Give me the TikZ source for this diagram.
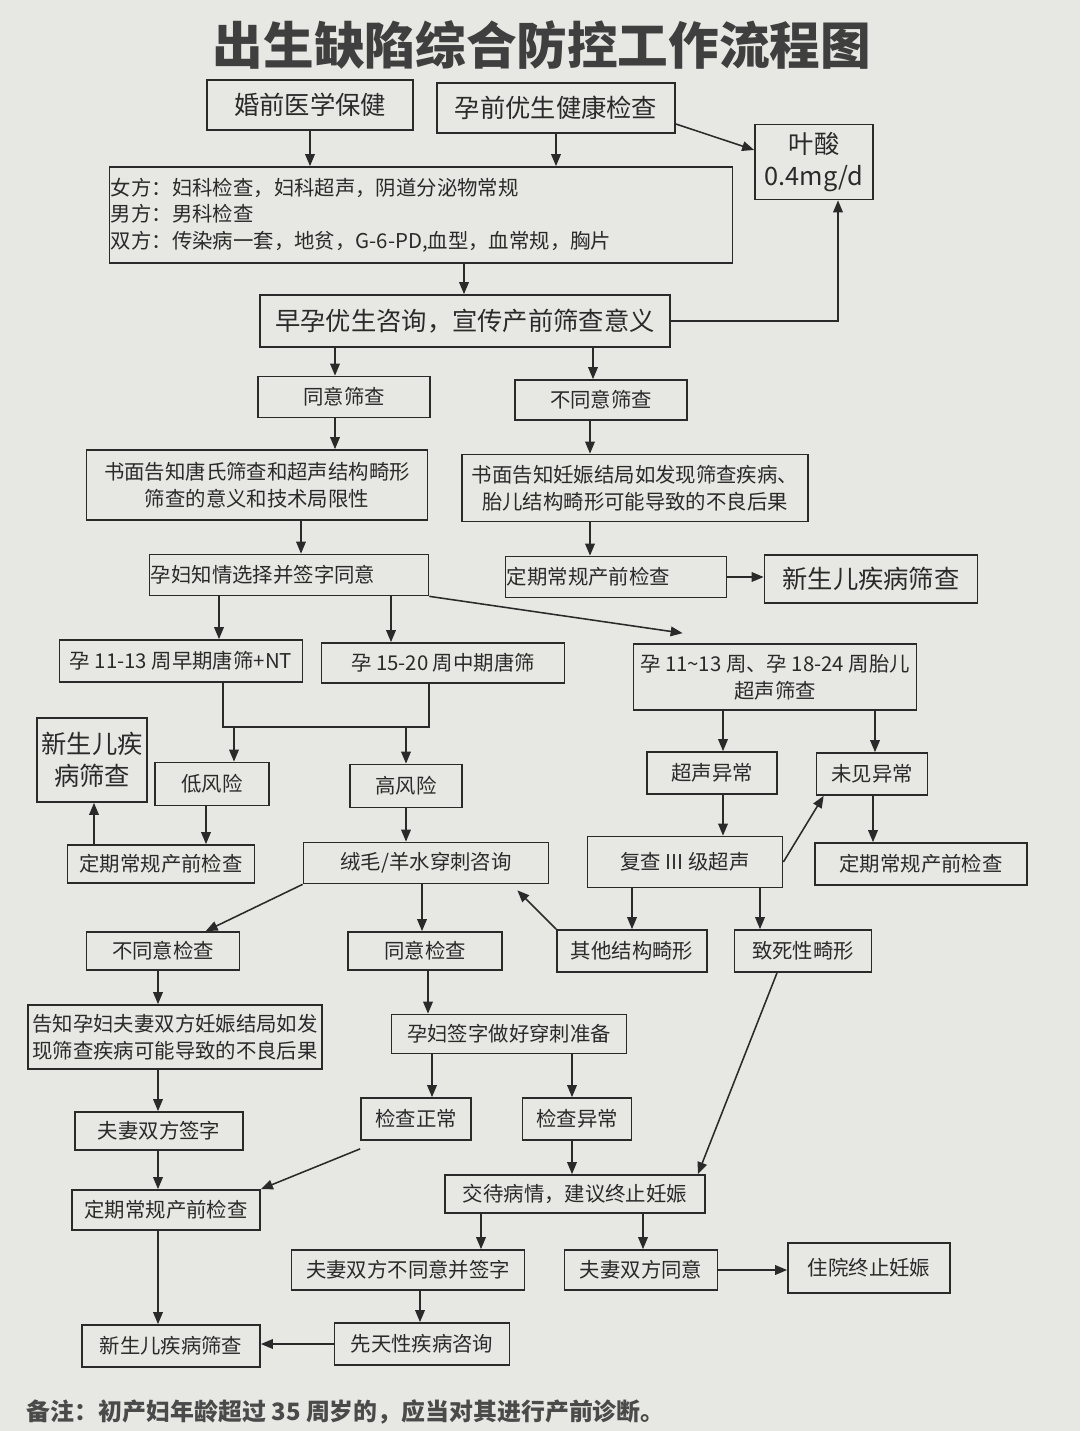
\documentclass[tikz,border=0pt]{standalone}
\usepackage{fontspec}
\setmainfont{Noto Sans CJK SC}
\usepackage{tikz}
\usetikzlibrary{arrows.meta}

\definecolor{paper}{RGB}{231,231,227}
\definecolor{ink}{RGB}{42,42,42}

\begin{document}
\begin{tikzpicture}[x=0.025cm, y=-0.025cm, color=ink,
	box/.style={draw, line width=1.2pt, inner sep=1pt, align=center, font=\fontsize{14.5}{19}\selectfont},
	bigbox/.style={box, font=\fontsize{18}{23}\selectfont},
	arr/.style={-{Triangle[length=0.3cm, width=0.24cm]}, line width=1.1pt}]

	% Paper
	\fill[paper] (0,0) rectangle (1080,1431);
	\useasboundingbox (0,0) rectangle (1080,1431);

	% Title
	\node[font=\fontsize{36}{40}\selectfont\bfseries, text=ink!90] (title) at (542,45) {出生缺陷综合防控工作流程图};

	% Pre-pregnancy
	\node[bigbox, minimum width=5.15cm, minimum height=1.25cm] (hq) at (310,105) {婚前医学保健};
	\node[bigbox, minimum width=5.95cm, minimum height=1.25cm] (yq) at (556,108) {孕前优生健康检查};
	\node[bigbox, minimum width=2.95cm, minimum height=1.875cm] (ys) at (814,162) {叶酸\\0.4mg/d};
	\node[box, text width=15.5cm, align=left, minimum height=2.4cm] (jc) at (421,215)
		{女方：妇科检查，妇科超声，阴道分泌物常规\\男方：男科检查\\双方：传染病一套，地贫，G-6-PD,血型，血常规，胸片};
	\node[bigbox, minimum width=10.25cm, minimum height=1.3cm] (zy) at (465,321) {早孕优生咨询，宣传产前筛查意义};

	% Screening choice
	\node[box, minimum width=4.3cm, minimum height=1.025cm] (ty) at (344,397) {同意筛查};
	\node[box, minimum width=4.3cm, minimum height=1cm] (bty) at (601,400) {不同意筛查};
	\node[box, minimum width=8.525cm, minimum height=1.75cm] (smty) at (257,485) {书面告知唐氏筛查和超声结构畸形\\筛查的意义和技术局限性};
	\node[box, minimum width=8.65cm, minimum height=1.675cm] (smbty) at (635,488) {书面告知妊娠结局如发现筛查疾病、\\胎儿结构畸形可能导致的不良后果};
	\node[box, text width=6.9cm, align=left, minimum height=1.025cm] (qm) at (289,575) {孕妇知情选择并签字同意};
	\node[box, text width=5.45cm, align=left, minimum height=1.025cm] (dq1) at (616,577) {定期常规产前检查};
	\node[bigbox, minimum width=5.325cm, minimum height=1.2cm] (xs1) at (871,579) {新生儿疾病筛查};

	% Screening
	\node[box, minimum width=6.075cm, minimum height=1.05cm] (tz) at (181,661) {孕 11-13 周早期唐筛+NT};
	\node[box, minimum width=6.075cm, minimum height=1cm] (zq) at (443,663) {孕 15-20 周中期唐筛};
	\node[box, minimum width=7.075cm, minimum height=1.65cm] (cs) at (775,677) {孕 11\textasciitilde13 周、孕 18-24 周胎儿\\超声筛查};
	\node[bigbox, minimum width=2.75cm, minimum height=2.1cm] (xs2) at (92,760) {新生儿疾\\病筛查};
	\node[box, minimum width=2.85cm, minimum height=1.075cm] (df) at (212,784) {低风险};
	\node[box, minimum width=2.8cm, minimum height=1.075cm] (gf) at (406,786) {高风险};
	\node[box, minimum width=3.25cm, minimum height=1.05cm] (csyc) at (712,773) {超声异常};
	\node[box, minimum width=2.775cm, minimum height=1.05cm] (wjyc) at (872,774) {未见异常};

	% Follow-up
	\node[box, minimum width=4.675cm, minimum height=0.95cm] (dq2) at (161,864) {定期常规产前检查};
	\node[box, minimum width=6.125cm, minimum height=1.025cm] (cm) at (426,863) {绒毛/羊水穿刺咨询};
	\node[box, minimum width=4.875cm, minimum height=1.275cm] (fc) at (685,862) {复查 III 级超声};
	\node[box, minimum width=5.3cm, minimum height=1.05cm] (dq3) at (921,864) {定期常规产前检查};
	\node[box, minimum width=3.825cm, minimum height=0.95cm] (btyjc) at (163,951) {不同意检查};
	\node[box, minimum width=3.85cm, minimum height=0.95cm] (tyjc) at (425,951) {同意检查};
	\node[box, minimum width=3.75cm, minimum height=1.05cm] (qtjx) at (632,951) {其他结构畸形};
	\node[box, minimum width=3.425cm, minimum height=1.05cm] (zsjx) at (803,951) {致死性畸形};
	\node[box, minimum width=7.35cm, minimum height=1.6cm] (gz) at (175,1037) {告知孕妇夫妻双方妊娠结局如发\\现筛查疾病可能导致的不良后果};
	\node[box, minimum width=5.875cm, minimum height=0.975cm] (qz) at (509,1034) {孕妇签字做好穿刺准备};
	\node[box, minimum width=2.75cm, minimum height=1.05cm] (jczc) at (416,1119) {检查正常};
	\node[box, minimum width=2.725cm, minimum height=1.05cm] (jcyc) at (577,1119) {检查异常};
	\node[box, minimum width=4.2cm, minimum height=0.95cm] (fqqz) at (159,1131) {夫妻双方签字};
	\node[box, minimum width=6.5cm, minimum height=0.95cm] (jd) at (575,1194) {交待病情，建议终止妊娠};
	\node[box, minimum width=4.7cm, minimum height=1cm] (dq4) at (166,1210) {定期常规产前检查};
	\node[box, minimum width=5.825cm, minimum height=1cm] (fqbty) at (408,1270) {夫妻双方不同意并签字};
	\node[box, minimum width=3.825cm, minimum height=1cm] (fqty) at (641,1270) {夫妻双方同意};
	\node[box, minimum width=4.05cm, minimum height=1.25cm] (zy2) at (869,1268) {住院终止妊娠};
	\node[box, minimum width=4.45cm, minimum height=1.05cm] (xs3) at (171,1346) {新生儿疾病筛查};
	\node[box, minimum width=4.375cm, minimum height=1.05cm] (xtx) at (422,1344) {先天性疾病咨询};

	% Note
	\node[anchor=west, font=\fontsize{17}{20}\selectfont\bfseries, text=ink!85] (note) at (22,1412)
		{备注：初产妇年龄超过 35 周岁的，应当对其进行产前诊断。};

	% Arrows, top part
	\draw[arr] (hq.south) -- (hq.south |- jc.north);
	\draw[arr] (yq.south) -- (yq.south |- jc.north);
	\draw[arr] ([yshift=-0.4cm]yq.east) -- ([yshift=0.3cm]ys.west);
	\draw[arr] (464,0 |- jc.south) -- (464,0 |- zy.north);
	\draw[arr] (zy.east) -| (838,0 |- ys.south);
	\draw[arr] (335,0 |- zy.south) -- (335,0 |- ty.north);
	\draw[arr] (593,0 |- zy.south) -- (593,0 |- bty.north);
	\draw[arr] (335,0 |- ty.south) -- (335,0 |- smty.north);
	\draw[arr] (590,0 |- bty.south) -- (590,0 |- smbty.north);
	\draw[arr] (301,0 |- smty.south) -- (301,0 |- qm.north);
	\draw[arr] (590,0 |- smbty.south) -- (590,0 |- dq1.north);
	\draw[arr] (dq1.east) -- (dq1.east -| xs1.west);
	\draw[arr] (219,0 |- qm.south) -- (219,0 |- tz.north);
	\draw[arr] (391,0 |- qm.south) -- (391,0 |- zq.north);
	\draw[arr] (qm.south east) -- ([xshift=1.25cm, yshift=0.25cm]cs.north west);

	% Serum screening results
	\coordinate (jl) at (223,727);
	\coordinate (jr) at (429,727);
	\coordinate (ja) at (234,727);
	\coordinate (jb) at (406,727);
	\draw[line width=1.1pt] (jl |- tz.south) -- (jl) -- (jr) -- (jr |- zq.south);
	\draw[arr] (ja) -- (ja |- df.north);
	\draw[arr] (jb) -- (jb |- gf.north);

	% Ultrasound branch
	\draw[arr] (723,0 |- cs.south) -- (723,0 |- csyc.north);
	\draw[arr] (875,0 |- cs.south) -- (875,0 |- wjyc.north);
	\draw[arr] (723,0 |- csyc.south) -- (723,0 |- fc.north);
	\draw[arr] (fc.east) -- ([xshift=0.2cm]wjyc.south west);
	\draw[arr] (873,0 |- wjyc.south) -- (873,0 |- dq3.north);
	\draw[arr] (632,0 |- fc.south) -- (632,0 |- qtjx.north);
	\draw[arr] (760,0 |- fc.south) -- (760,0 |- zsjx.north);

	% Risk branch
	\draw[arr] (206,0 |- df.south) -- (206,0 |- dq2.north);
	\draw[arr] (94,0 |- dq2.north) -- (94,0 |- xs2.south);
	\draw[arr] (gf.south) -- (gf.south |- cm.north);
	\draw[arr] (cm.south west) -- ([xshift=3cm]btyjc.north west);
	\draw[arr] (422,0 |- cm.south) -- (422,0 |- tyjc.north);
	\draw[arr] (qtjx.north west) -- ([xshift=-0.8cm, yshift=-0.15cm]cm.south east);

	% Bottom part
	\draw[arr] (158,0 |- btyjc.south) -- (158,0 |- gz.north);
	\draw[arr] (428,0 |- tyjc.south) -- (428,0 |- qz.north);
	\draw[arr] (432,0 |- qz.south) -- (432,0 |- jczc.north);
	\draw[arr] (572,0 |- qz.south) -- (572,0 |- jcyc.north);
	\draw[arr] (158,0 |- gz.south) -- (158,0 |- fqqz.north);
	\draw[arr] (158,0 |- fqqz.south) -- (158,0 |- dq4.north);
	\draw[arr] ([yshift=-0.2cm]jczc.south west) -- (dq4.north east);
	\draw[arr] ([xshift=-0.65cm]zsjx.south) -- ([xshift=-0.2cm]jd.north east);
	\draw[arr] (572,0 |- jcyc.south) -- (572,0 |- jd.north);
	\draw[arr] (481,0 |- jd.south) -- (481,0 |- fqbty.north);
	\draw[arr] (643,0 |- jd.south) -- (643,0 |- fqty.north);
	\draw[arr] (fqty.east) -- (fqty.east -| zy2.west);
	\draw[arr] (420,0 |- fqbty.south) -- (420,0 |- xtx.north);
	\draw[arr] (xtx.west) -- (xtx.west -| xs3.east);
	\draw[arr] (158,0 |- dq4.south) -- (158,0 |- xs3.north);
\end{tikzpicture}
\end{document}
